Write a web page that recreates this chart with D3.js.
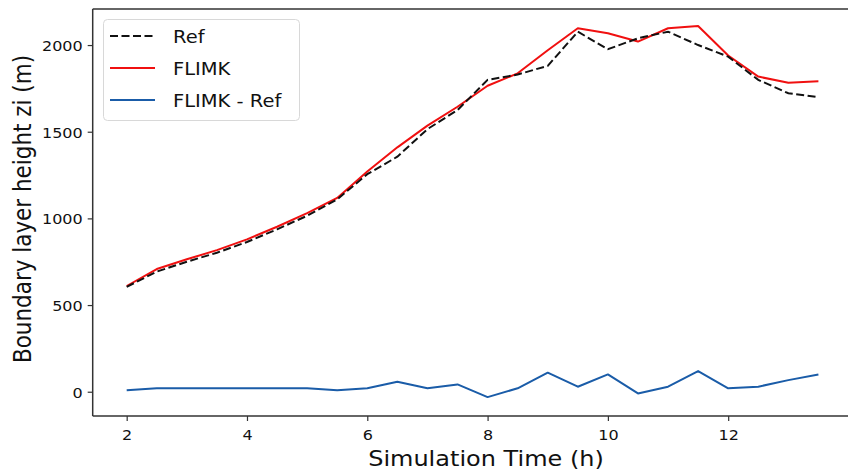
<!DOCTYPE html>
<html>
<head>
<meta charset="utf-8">
<script src="https://cdn.jsdelivr.net/npm/d3@7"></script>
<style>
  html, body { margin: 0; padding: 0; background: #fff; overflow: hidden; }
  svg { display: block; font-family: "DejaVu Sans", sans-serif; }
</style>
</head>
<body>
<svg id="chart" width="848" height="471"></svg>
<script>
// Simulation time (h)
const time = [2, 2.5, 3, 3.5, 4, 4.5, 5, 5.5, 6, 6.5, 7, 7.5, 8, 8.5, 9, 9.5, 10, 10.5, 11, 11.5, 12, 12.5, 13, 13.5];
// Boundary layer height zi (m), reference run
const refZi = [605, 693, 750, 802, 864, 937, 1015, 1110, 1255, 1356, 1515, 1625, 1799, 1830, 1880, 2077, 1976, 2039, 2077, 2000, 1933, 1799, 1722, 1699];
// Boundary layer height zi (m), FLIMK run
const flimkZi = [610, 708, 764, 817, 879, 952, 1030, 1118, 1270, 1410, 1535, 1644, 1765, 1837, 1970, 2097, 2068, 2020, 2097, 2110, 1940, 1818, 1783, 1791];
// Difference FLIMK - Ref (m)
const diffZi = [8, 20, 20, 20, 20, 20, 20, 8, 20, 58, 20, 42, -31, 20, 110, 29, 100, -10, 29, 119, 20, 29, 67, 100];

const xTicks = [2, 4, 6, 8, 10, 12];
const yTicks = [0, 500, 1000, 1500, 2000];

const seriesNames = ["Ref", "FLIMK", "FLIMK - Ref"];
const seriesColors = ["#111111", "#f01010", "#1a5ca8"];

const width = 848;
const svg = d3.select("#chart");
const squash = 0.86; // vertical text compression

const x = d3.scaleLinear().domain([1.435, 14.075]).range([92.7, 853]);
const y = d3.scaleLinear().domain([-140, 2208]).range([416, 9]);

// Lines
const line = d3.line().x((d, i) => x(time[i])).y(d => y(d));

svg.append("path").datum(diffZi)
  .attr("d", line).attr("fill", "none")
  .attr("stroke", seriesColors[2]).attr("stroke-width", 2).attr("stroke-linejoin", "round");

svg.append("path").datum(flimkZi)
  .attr("d", line).attr("fill", "none")
  .attr("stroke", seriesColors[1]).attr("stroke-width", 2).attr("stroke-linejoin", "round");

svg.append("path").datum(refZi)
  .attr("d", line).attr("fill", "none")
  .attr("stroke", seriesColors[0]).attr("stroke-width", 2)
  .attr("stroke-dasharray", "8,3.5");

// Axes
const xAxis = svg.append("g").attr("transform", `translate(0,416)`)
  .call(d3.axisBottom(x).tickValues(xTicks).tickSize(5).tickPadding(6).tickFormat(d3.format("d")));
const yAxis = svg.append("g").attr("transform", `translate(92.7,0)`)
  .call(d3.axisLeft(y).tickValues(yTicks).tickSize(5).tickPadding(6).tickFormat(d3.format("d")));

[xAxis, yAxis].forEach(g => {
  g.select(".domain").remove();
  g.selectAll(".tick line").attr("stroke", "#333").attr("stroke-width", 1.2);
  g.selectAll(".tick text").attr("fill", "#111").style("font-size", "16px")
    .style("font-family", "'DejaVu Sans', sans-serif");
});
xAxis.selectAll(".tick text").attr("dy", null).attr("y", 0)
  .attr("transform", `translate(0,24) scale(1,${squash})`);
yAxis.selectAll(".tick text").attr("dy", null).attr("x", 0)
  .attr("transform", `translate(-10,5.5) scale(1,${squash})`);

// Spines: left, bottom and top; the frame runs off the right edge of the canvas
const spine = svg.append("g").attr("fill", "none").attr("stroke", "#333").attr("stroke-width", 1.5);
spine.append("line").attr("x1", 92.7).attr("x2", 92.7).attr("y1", 9).attr("y2", 416);
spine.append("line").attr("x1", 92.7).attr("x2", width).attr("y1", 416).attr("y2", 416);
spine.append("line").attr("x1", 92.7).attr("x2", width).attr("y1", 9).attr("y2", 9);

// Axis titles
svg.append("text")
  .attr("transform", `translate(486,466) scale(1,${squash})`)
  .attr("text-anchor", "middle").style("font-size", "24px").attr("fill", "#111")
  .text("Simulation Time (h)");

svg.append("text")
  .attr("transform", `translate(31,209) rotate(-90) scale(${squash},1)`)
  .attr("text-anchor", "middle").style("font-size", "25px").attr("fill", "#111")
  .text("Boundary layer height zi (m)");

// Legend
const legend = svg.append("g");
legend.append("rect")
  .attr("x", 103.5).attr("y", 19.5).attr("width", 196).attr("height", 101)
  .attr("rx", 4).attr("fill", "#fff").attr("fill-opacity", 0.85)
  .attr("stroke", "#d8d8d8").attr("stroke-width", 1);

const legendY = [36, 68, 100];
seriesNames.forEach((name, i) => {
  const ln = legend.append("line")
    .attr("x1", 110).attr("x2", 155).attr("y1", legendY[i]).attr("y2", legendY[i])
    .attr("stroke", seriesColors[i]).attr("stroke-width", 2);
  if (i === 0) ln.attr("stroke-dasharray", "8,3.5");
  legend.append("text")
    .attr("transform", `translate(173,${legendY[i] + 7}) scale(1,0.95)`)
    .style("font-size", "19.5px").attr("fill", "#111")
    .text(name);
});
</script>
</body>
</html>
